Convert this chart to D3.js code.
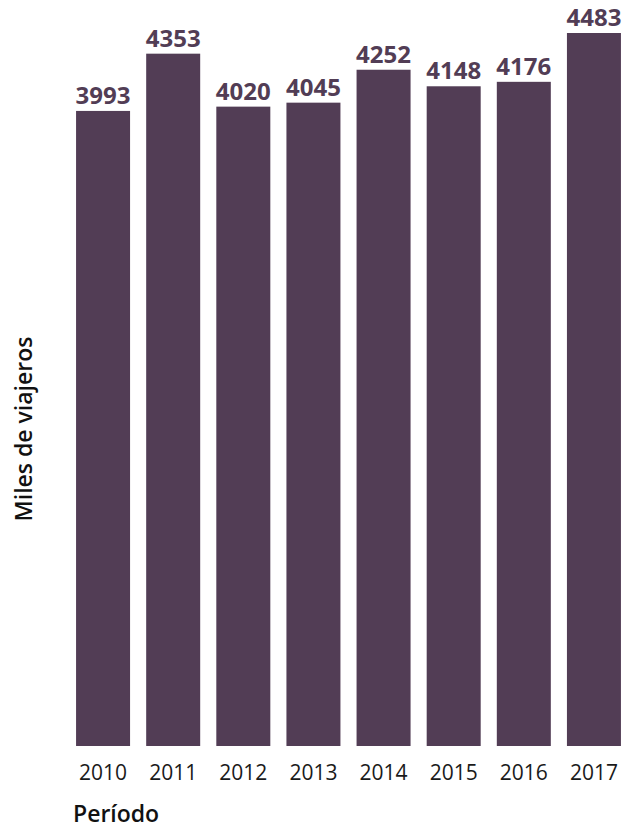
<!DOCTYPE html>
<html>
<head>
<meta charset="utf-8">
<script src="https://cdn.jsdelivr.net/npm/d3@7"></script>
<style>
  html, body { margin: 0; padding: 0; background: #ffffff; }
  svg { display: block; }
</style>
</head>
<body>
<div id="chart"></div>
<script>
// Data
const years = ["2010", "2011", "2012", "2013", "2014", "2015", "2016", "2017"];
const travellers = [3993, 4353, 4020, 4045, 4252, 4148, 4176, 4483];

const W = 632, H = 831;
const barColor = "#523d55";
const fontFamily = "'Open Sans', 'Noto Sans', sans-serif";

const svg = d3.select("#chart")
  .append("svg")
  .attr("width", W)
  .attr("height", H);

const x = d3.scaleBand()
  .domain(years)
  .range([68, 629])
  .paddingInner(0.23)
  .paddingOuter(0.115);

const y = d3.scaleLinear()
  .domain([0, 4483])
  .range([746, 33]);

const data = years.map((yr, i) => ({ year: yr, value: travellers[i] }));

// Bars
svg.selectAll(".bar")
  .data(data)
  .enter()
  .append("rect")
  .attr("class", "bar")
  .attr("x", (d) => x(d.year))
  .attr("y", (d) => y(d.value))
  .attr("width", x.bandwidth())
  .attr("height", (d) => y(0) - y(d.value))
  .attr("fill", barColor);

// Value labels
svg.selectAll(".val")
  .data(data)
  .enter()
  .append("text")
  .attr("class", "val")
  .attr("x", (d) => x(d.year) + x.bandwidth() / 2)
  .attr("y", (d) => y(d.value) - 7)
  .attr("text-anchor", "middle")
  .attr("font-family", fontFamily)
  .attr("font-weight", 700)
  .attr("font-size", "24px")
  .attr("fill", barColor)
  .text((d) => d.value);

// X axis (tick labels only)
const xAxis = svg.append("g")
  .attr("transform", `translate(0,${y(0)})`)
  .call(d3.axisBottom(x).tickSize(0).tickPadding(19));
xAxis.select(".domain").remove();
xAxis.selectAll("text")
  .attr("font-family", fontFamily)
  .attr("font-size", "21px")
  .attr("fill", "#1a1a1a");

// Axis titles
svg.append("text")
  .attr("x", 73)
  .attr("y", 822)
  .attr("font-family", fontFamily)
  .attr("font-weight", 600)
  .attr("font-size", "23px")
  .attr("fill", "#111")
  .text("Período");

svg.append("text")
  .attr("transform", "translate(32,429) rotate(-90)")
  .attr("text-anchor", "middle")
  .attr("font-family", fontFamily)
  .attr("font-weight", 600)
  .attr("font-size", "23px")
  .attr("fill", "#111")
  .text("Miles de viajeros");
</script>
</body>
</html>
